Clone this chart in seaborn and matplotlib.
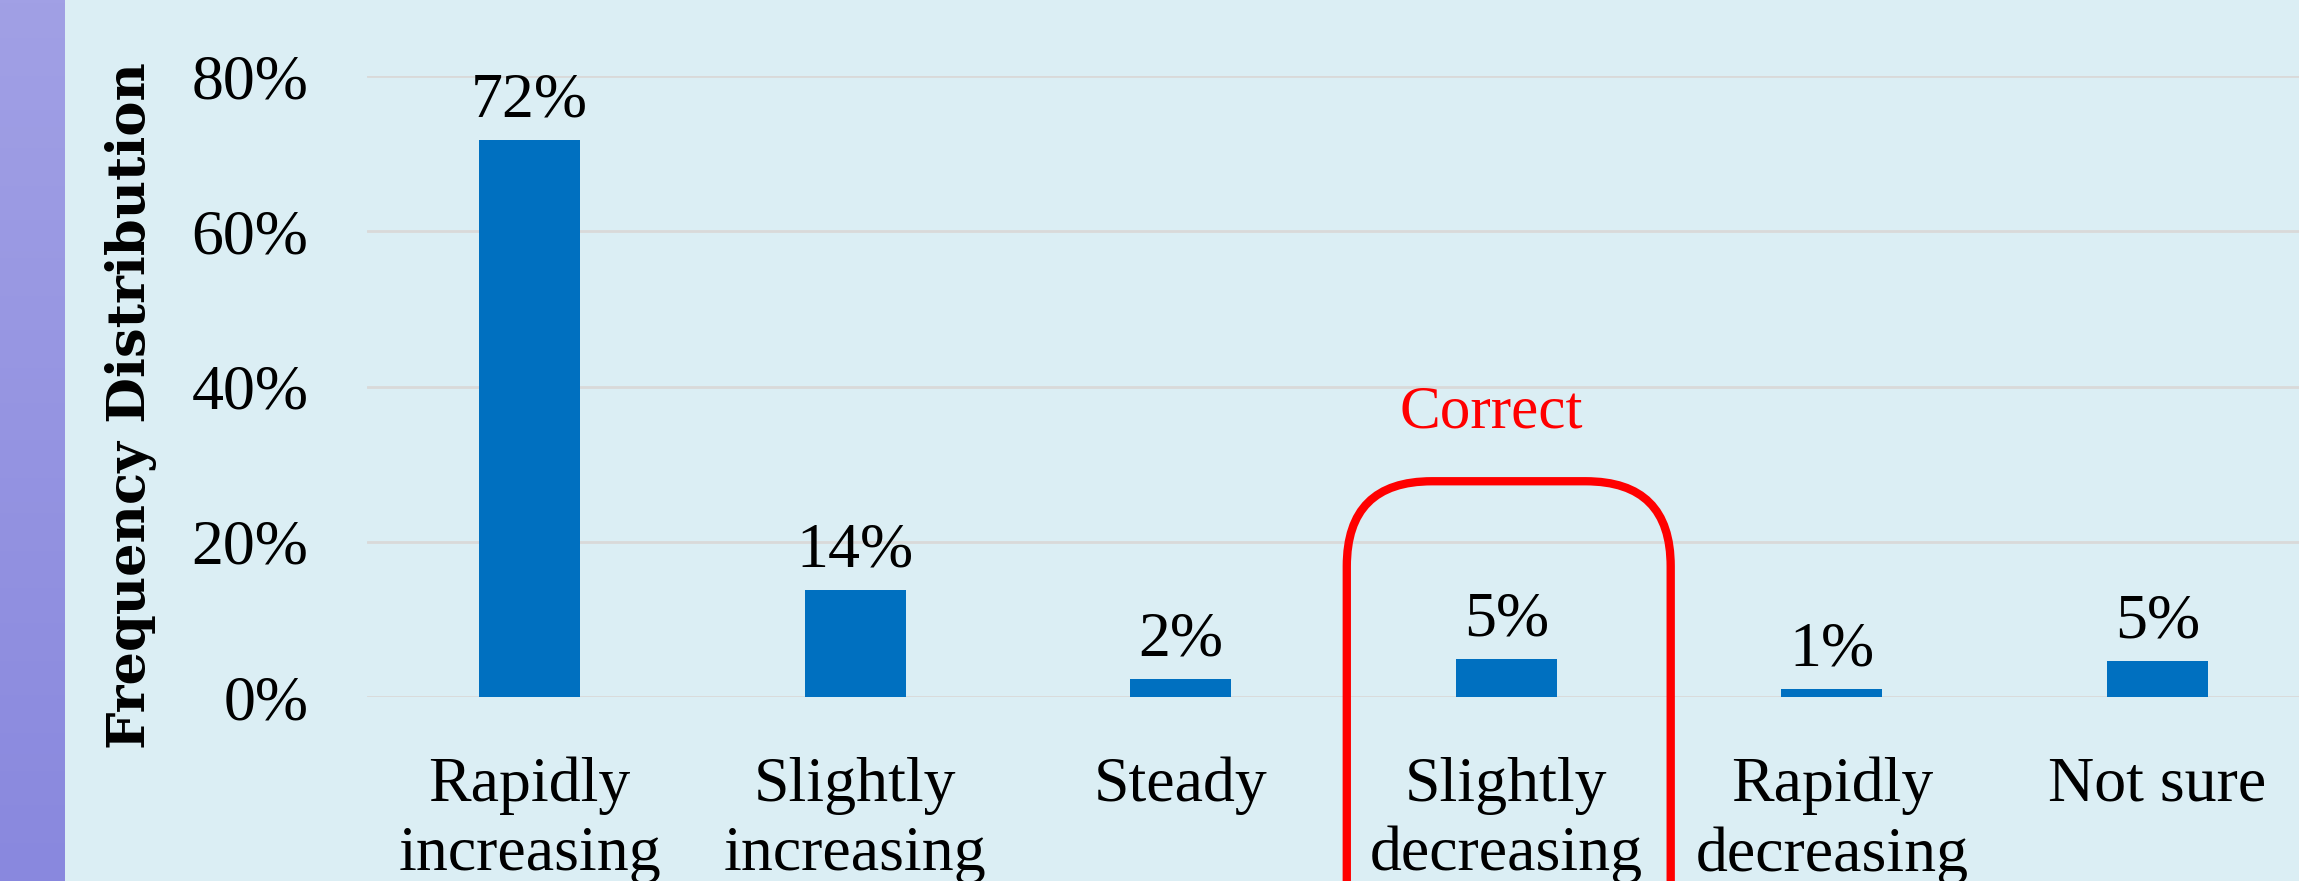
import numpy as np
import matplotlib
matplotlib.use("Agg")
import matplotlib.pyplot as plt
from matplotlib.patches import FancyBboxPatch
from matplotlib.transforms import IdentityTransform
from matplotlib.colors import LinearSegmentedColormap
import seaborn as sns

# -----------------------------
# data
# -----------------------------
categories = ["Rapidly\nincreasing", "Slightly\nincreasing", "Steady",
              "Slightly\ndecreasing", "Rapidly\ndecreasing", "Not sure"]
shares = [0.717, 0.138, 0.023, 0.049, 0.010, 0.046]
value_labels = ["72%", "14%", "2%", "5%", "1%", "5%"]
y_ticks = [0.0, 0.2, 0.4, 0.6, 0.8]
y_tick_labels = ["0%", "20%", "40%", "60%", "80%"]
correct_index = 3

BG = "#dbeef4"
BAR = "#0070c0"

sns.set_style("white")
plt.rcParams["font.family"] = ["Liberation Serif", "DejaVu Serif"]
plt.rcParams["text.color"] = "black"
plt.rcParams["xtick.color"] = "black"
plt.rcParams["ytick.color"] = "black"
plt.rcParams["axes.labelcolor"] = "black"

fig = plt.figure(figsize=(22.99, 8.81), dpi=100, facecolor=BG)

# purple strip on the left edge
strip = fig.add_axes([0, 0, 65 / 2299, 1])
grad = np.linspace(0, 1, 256).reshape(-1, 1)
strip.imshow(grad, aspect="auto",
             cmap=LinearSegmentedColormap.from_list("s", ["#a1a0e5", "#8988de"]))
strip.set_axis_off()

ax = fig.add_axes([0.1596, 0.2088, 0.8496, 0.7049])
ax.set_facecolor(BG)

sns.barplot(x=categories, y=shares, color=BAR, saturation=1, width=0.31,
            linewidth=0, ax=ax)

ax.set_xlim(-0.5, 5.5)
ax.set_ylim(0, 0.8)
ax.set_yticks(y_ticks)
ax.set_yticklabels(y_tick_labels, fontsize=46)
ax.tick_params(axis="y", length=0, pad=42)
ax.tick_params(axis="x", length=0, pad=43, labelsize=46)
for lbl in ax.get_xticklabels():
    lbl.set_linespacing(1.25)

ax.yaxis.grid(True, color="#d9d9d9", lw=2)
ax.set_axisbelow(True)
for s in ax.spines.values():
    s.set_visible(False)

ax.bar_label(ax.containers[0], labels=value_labels, padding=7, fontsize=46)

ax.set_ylabel("Frequency Distribution", fontsize=38, fontweight="bold",
              family="DejaVu Serif")
ax.yaxis.set_label_coords(-0.1075, 0.469)

# "Correct" annotation with rounded box around the right answer
ax.text(correct_index - 0.045, 0.347, "Correct", color="red", fontsize=44,
        ha="center", va="baseline")

x0, y0 = ax.transData.transform((correct_index - 0.49, -0.35))
x1, y1 = ax.transData.transform((correct_index + 0.505, 0.278))
box = FancyBboxPatch((x0, y0), x1 - x0, y1 - y0,
                     boxstyle="round,pad=0,rounding_size=85",
                     transform=IdentityTransform(), fill=False,
                     edgecolor="red", lw=6, clip_on=False)
fig.patches.append(box)

fig.savefig("out.png", dpi=100, facecolor=BG)
